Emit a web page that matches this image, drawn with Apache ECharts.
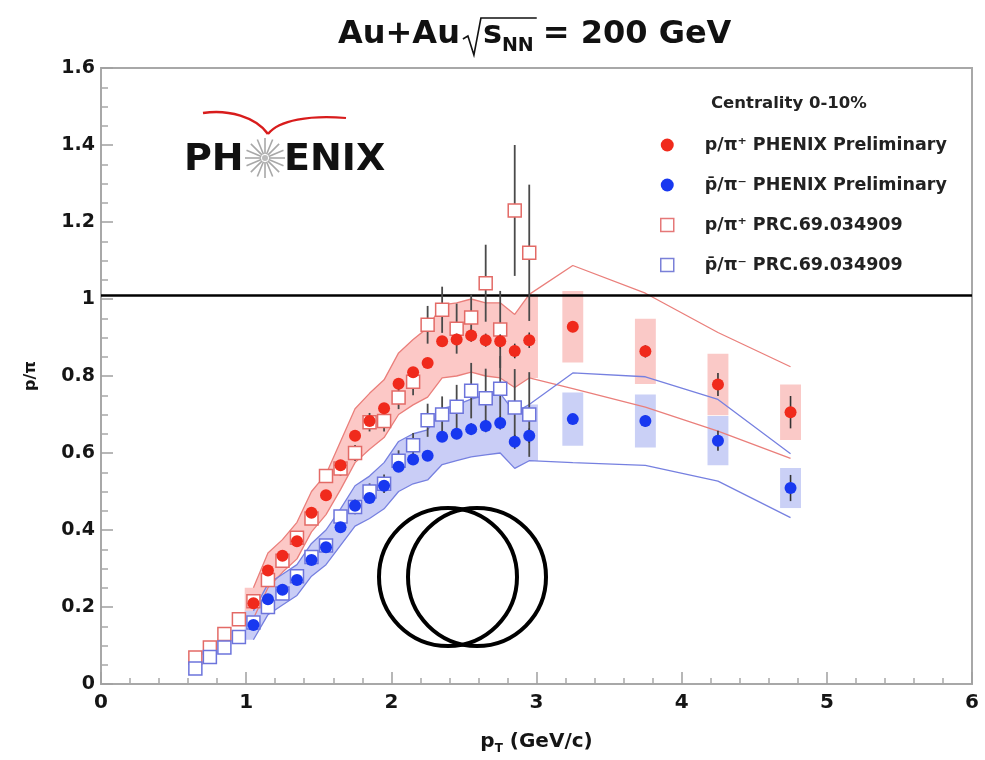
<!DOCTYPE html>
<html>
<head>
<meta charset="utf-8">
<script src="https://cdn.jsdelivr.net/npm/echarts@6/dist/echarts.min.js"></script>
<style>
html,body{margin:0;padding:0;background:#fff}
#main{width:985px;height:760px}
</style>
</head>
<body>
<div id="main"></div>
<script>
// ---- PHENIX preliminary p/pi ratios, Au+Au 200 GeV, 0-10% ----
const ptPre = [1.05,1.15,1.25,1.35,1.45,1.55,1.65,1.75,1.85,1.95,2.05,2.15,2.25,2.35,2.45,2.55,2.65,2.75,2.85,2.95,3.25,3.75,4.25,4.75];
const redPre = [0.21,0.295,0.333,0.371,0.445,0.49,0.568,0.645,0.683,0.716,0.78,0.81,0.834,0.89,0.895,0.905,0.893,0.89,0.865,0.893,0.928,0.864,0.778,0.706];
const redPreErr = [0.004,0.005,0.005,0.006,0.006,0.007,0.008,0.008,0.009,0.01,0.011,0.012,0.013,0.014,0.015,0.016,0.017,0.018,0.019,0.02,0.014,0.016,0.03,0.042];
const bluePre = [0.153,0.22,0.245,0.27,0.322,0.355,0.407,0.463,0.483,0.515,0.564,0.583,0.593,0.642,0.65,0.662,0.67,0.678,0.629,0.645,0.688,0.683,0.632,0.509];
const bluePreErr = [0.004,0.004,0.005,0.005,0.006,0.006,0.007,0.008,0.008,0.009,0.01,0.011,0.012,0.013,0.014,0.015,0.016,0.017,0.018,0.019,0.013,0.015,0.026,0.034];

// systematic envelope (edges), same pT bins as the preliminary points
const redEdgeHi = [0.25,0.34,0.375,0.42,0.50,0.545,0.63,0.715,0.755,0.79,0.86,0.895,0.925,0.985,0.99,1.0,0.99,0.99,0.96,1.012,1.087,1.015,0.913,0.824];
const redEdgeLo = [0.17,0.25,0.29,0.325,0.395,0.44,0.505,0.575,0.61,0.64,0.70,0.725,0.745,0.795,0.80,0.81,0.80,0.795,0.77,0.795,0.767,0.719,0.657,0.586];
const blueEdgeHi = [0.19,0.26,0.285,0.31,0.365,0.40,0.455,0.515,0.54,0.575,0.63,0.65,0.66,0.715,0.725,0.74,0.75,0.755,0.705,0.726,0.808,0.798,0.739,0.598];
const blueEdgeLo = [0.115,0.18,0.205,0.23,0.28,0.31,0.36,0.41,0.43,0.455,0.50,0.52,0.53,0.57,0.58,0.59,0.595,0.60,0.56,0.58,0.575,0.568,0.527,0.432];
const bandCount = 20;   // the envelope is shaded over the first 20 bins only

// systematic boxes for the high-pT bins
const ptSys = [3.25,3.75,4.25,4.75];
const redSys = [0.093,0.085,0.08,0.072];
const blueSys = [0.069,0.069,0.064,0.052];

// ---- PRC 69, 034909 ----
const ptPRC = [0.65,0.75,0.85,0.95,1.05,1.15,1.25,1.35,1.45,1.55,1.65,1.75,1.85,1.95,2.05,2.15,2.25,2.35,2.45,2.55,2.65,2.75,2.85,2.95];
const redPRC = [0.069,0.095,0.13,0.168,0.215,0.27,0.32,0.38,0.43,0.54,0.56,0.60,0.68,0.683,0.744,0.785,0.933,0.972,0.923,0.952,1.041,0.921,1.23,1.12];
const redPRCErr = [0.004,0.005,0.006,0.007,0.008,0.01,0.011,0.013,0.015,0.017,0.019,0.021,0.024,0.027,0.03,0.035,0.049,0.06,0.065,0.06,0.1,0.1,0.17,0.177];
const bluePRC = [0.04,0.07,0.095,0.122,0.16,0.2,0.235,0.28,0.33,0.36,0.435,0.46,0.50,0.52,0.58,0.62,0.685,0.70,0.72,0.762,0.742,0.767,0.718,0.70];
const bluePRCErr = [0.003,0.004,0.005,0.006,0.007,0.008,0.01,0.011,0.013,0.015,0.017,0.019,0.021,0.024,0.027,0.032,0.043,0.047,0.057,0.072,0.077,0.085,0.1,0.11];

const unityLevel = 1.01;

const S1 = 'p/\u03c0\u207a PHENIX Preliminary';
const S2 = 'p\u0304/\u03c0\u207b PHENIX Preliminary';
const S3 = 'p/\u03c0\u207a PRC.69.034909';
const S4 = 'p\u0304/\u03c0\u207b PRC.69.034909';

const FONT = '"DejaVu Sans", sans-serif';
const RED = '#f02a1c', BLUE = '#1838f0';

const pairs = (xs, ys) => xs.map((x, i) => [x, ys[i]]);
const triples = (xs, ys, es) => xs.map((x, i) => [x, ys[i], es[i]]);

function bandSeries(lo, hi, fill) {
  return {
    type: 'custom', silent: true, z: 1, data: [[ptPre[0], lo[0]]],
    renderItem(params, api) {
      const pad = 0.06, n = bandCount;
      const top = [api.coord([ptPre[0] - pad, hi[0]])];
      const bot = [api.coord([ptPre[0] - pad, lo[0]])];
      for (let i = 0; i < n; i++) {
        top.push(api.coord([ptPre[i], hi[i]]));
        bot.push(api.coord([ptPre[i], lo[i]]));
      }
      top.push(api.coord([ptPre[n - 1] + pad, hi[n - 1]]));
      bot.push(api.coord([ptPre[n - 1] + pad, lo[n - 1]]));
      return { type: 'polygon', shape: { points: top.concat(bot.reverse()) }, style: { fill } };
    }
  };
}

function edgeLine(ys, color) {
  return {
    type: 'line', silent: true, z: 2, data: pairs(ptPre, ys), symbol: 'none',
    lineStyle: { color, width: 1.3 }, animation: false
  };
}

function boxSeries(vals, sys, fill) {
  return {
    type: 'custom', silent: true, z: 1, data: triples(ptSys, vals, sys),
    renderItem(params, api) {
      const x = api.value(0), y = api.value(1), s = api.value(2), hw = 0.072;
      const a = api.coord([x - hw, y + s]), b = api.coord([x + hw, y - s]);
      return { type: 'rect', shape: { x: a[0], y: a[1], width: b[0] - a[0], height: b[1] - a[1] }, style: { fill } };
    }
  };
}

function errSeries(xs, ys, es, color, width, z) {
  return {
    type: 'custom', silent: true, z, data: triples(xs, ys, es),
    renderItem(params, api) {
      const x = api.value(0), y = api.value(1), e = api.value(2);
      const a = api.coord([x, y - e]), b = api.coord([x, y + e]);
      return { type: 'line', shape: { x1: a[0], y1: a[1], x2: b[0], y2: b[1] }, style: { stroke: color, lineWidth: width } };
    }
  };
}

// ---- title and logo layout helpers ----
const ctx = document.createElement('canvas').getContext('2d');
function tw(text, font) { ctx.font = font; return ctx.measureText(text).width; }

const titleFont = 'bold 32px ' + FONT;
const subFont = 'bold 19px ' + FONT;
const tx0 = 338, tyMid = 35;
const wAu = tw('Au+Au', titleFont);
const rx0 = tx0 + wAu + 3;               // radical start
const sx = rx0 + 20;                      // 's' start
const wS = tw('s', titleFont);
const wNN = tw('NN', subFont);
const eqx = sx + wS + wNN + 9;

const titleGraphics = [
  { type: 'text', style: { x: tx0, y: tyMid, text: 'Au+Au', font: titleFont, fill: '#111', verticalAlign: 'middle' } },
  { type: 'polyline', shape: { points: [[rx0, tyMid + 4], [rx0 + 5, tyMid + 1], [rx0 + 11, tyMid + 20], [rx0 + 18, tyMid - 17], [sx + wS + wNN + 3, tyMid - 17]] },
    style: { stroke: '#111', lineWidth: 1.6, fill: 'none' } },
  { type: 'text', style: { x: sx, y: tyMid, text: 's', font: titleFont, fill: '#111', verticalAlign: 'middle' } },
  { type: 'text', style: { x: sx + wS, y: tyMid + 11, text: 'NN', font: subFont, fill: '#111', verticalAlign: 'middle' } },
  { type: 'text', style: { x: eqx, y: tyMid, text: '= 200 GeV', font: titleFont, fill: '#111', verticalAlign: 'middle' } }
];

const logoFont = 'bold 38px ' + FONT;
const starC = [265, 158];
const rays = [];
for (let k = 0; k < 16; k++) {
  const a = k * Math.PI / 8;
  rays.push({ type: 'line', shape: { x1: starC[0] + 4 * Math.cos(a), y1: starC[1] + 4 * Math.sin(a), x2: starC[0] + 20 * Math.cos(a), y2: starC[1] + 20 * Math.sin(a) },
    style: { stroke: '#a8a8a8', lineWidth: 1.6 } });
}
const logoGraphics = [
  { type: 'text', style: { x: 184, y: starC[1] + 2, text: 'PH', font: logoFont, fill: '#111', verticalAlign: 'middle' } },
  { type: 'text', style: { x: 284, y: starC[1] + 2, text: 'ENIX', font: logoFont, fill: '#111', verticalAlign: 'middle' } },
  ...rays,
  { type: 'circle', shape: { cx: starC[0], cy: starC[1], r: 3 }, style: { fill: '#bbb' } },
  { type: 'bezierCurve', shape: { x1: 203, y1: 113, cpx1: 228, cpy1: 109, cpx2: 256, cpy2: 117, x2: 268, y2: 134 }, style: { stroke: '#d81c1c', lineWidth: 2.6, fill: 'none' } },
  { type: 'bezierCurve', shape: { x1: 268, y1: 134, cpx1: 279, cpy1: 120, cpx2: 310, cpy2: 115, x2: 346, y2: 118 }, style: { stroke: '#d81c1c', lineWidth: 2.2, fill: 'none' } }
];

// annotation rings
const ringGraphics = [
  { type: 'circle', shape: { cx: 448, cy: 577, r: 69 }, style: { fill: 'none', stroke: '#000', lineWidth: 4 }, z: 100 },
  { type: 'circle', shape: { cx: 477, cy: 577, r: 69 }, style: { fill: 'none', stroke: '#000', lineWidth: 4 }, z: 100 }
];

const chart = echarts.init(document.getElementById('main'), null, { renderer: 'canvas' });
chart.setOption({
  animation: false,
  backgroundColor: '#fff',
  title: {
    text: 'Centrality 0-10%', left: 706, top: 90,
    textStyle: { fontFamily: FONT, fontWeight: 'bold', fontSize: 16.5, color: '#222' }
  },
  grid: { left: 101, right: 13, top: 68, bottom: 66, show: true, borderColor: '#a8a8a8', borderWidth: 2 },
  legend: {
    orient: 'vertical', left: 655, top: 131, itemWidth: 13, itemHeight: 13, itemGap: 22, selectedMode: false,
    textStyle: { fontFamily: FONT, fontWeight: 'bold', fontSize: 17.5, color: '#222', padding: [0, 0, 0, 26], lineHeight: 18 },
    data: [
      { name: S1, icon: 'circle', itemStyle: { color: RED } },
      { name: S2, icon: 'circle', itemStyle: { color: BLUE } },
      { name: S3, icon: 'rect', itemStyle: { color: '#fff', borderColor: '#e57878', borderWidth: 1.5 } },
      { name: S4, icon: 'rect', itemStyle: { color: '#fff', borderColor: '#7a80d8', borderWidth: 1.5 } }
    ]
  },
  xAxis: {
    type: 'value', min: 0, max: 6, interval: 1,
    axisLine: { show: true, onZero: false, lineStyle: { color: '#a8a8a8', width: 2 } },
    axisTick: { show: true, inside: true, length: 12, lineStyle: { color: '#a0a0a0', width: 1.5 } },
    minorTick: { show: true, splitNumber: 5, length: 6, lineStyle: { color: '#a8a8a8', width: 1.5 } },
    splitLine: { show: false },
    axisLabel: { fontFamily: FONT, fontWeight: 'bold', fontSize: 20, color: '#151515', margin: 9 },
    name: '{p|p}{t|T}{p| (GeV/c)}', nameLocation: 'middle', nameGap: 45,
    nameTextStyle: { rich: {
      p: { fontFamily: FONT, fontWeight: 'bold', fontSize: 20, color: '#151515' },
      t: { fontFamily: FONT, fontWeight: 'bold', fontSize: 12, color: '#151515', padding: [14, 0, 0, 0] }
    } }
  },
  yAxis: {
    type: 'value', min: 0, max: 1.6, interval: 0.2,
    axisLine: { show: true, lineStyle: { color: '#a8a8a8', width: 2 } },
    axisTick: { show: true, inside: true, length: 12, lineStyle: { color: '#a0a0a0', width: 1.5 } },
    minorTick: { show: true, splitNumber: 4, length: 7, lineStyle: { color: '#a8a8a8', width: 1.5 } },
    splitLine: { show: false },
    axisLabel: { fontFamily: FONT, fontWeight: 'bold', fontSize: 19, color: '#151515', margin: 6 },
    name: 'p/\u03c0', nameLocation: 'middle', nameGap: 62, nameRotate: 90,
    nameTextStyle: { fontFamily: FONT, fontWeight: 'bold', fontSize: 16, color: '#151515' }
  },
  series: [
    bandSeries(redEdgeLo, redEdgeHi, '#fcc8c6'),
    bandSeries(blueEdgeLo, blueEdgeHi, '#c9cdf6'),
    boxSeries(redPre.slice(20), redSys, '#fac9c7'),
    boxSeries(bluePre.slice(20), blueSys, '#cad0f6'),
    edgeLine(redEdgeHi, '#ea7f7b'),
    edgeLine(redEdgeLo, '#ea7f7b'),
    edgeLine(blueEdgeHi, '#7680e0'),
    edgeLine(blueEdgeLo, '#7680e0'),
    errSeries(ptPRC, redPRC, redPRCErr, '#4a4a4a', 1.8, 5),
    errSeries(ptPRC, bluePRC, bluePRCErr, '#4a4a4a', 1.8, 5),
    {
      name: S3, type: 'scatter', z: 6, data: pairs(ptPRC, redPRC), symbol: 'rect', symbolSize: 13,
      itemStyle: { color: '#fff', borderColor: '#e36a66', borderWidth: 1.5, opacity: 1 }
    },
    {
      name: S4, type: 'scatter', z: 6, data: pairs(ptPRC, bluePRC), symbol: 'rect', symbolSize: 13,
      itemStyle: { color: '#fff', borderColor: '#6c74dc', borderWidth: 1.5, opacity: 1 }
    },
    errSeries(ptPre, redPre, redPreErr, '#333', 1.6, 7),
    errSeries(ptPre, bluePre, bluePreErr, '#333', 1.6, 7),
    {
      name: S1, type: 'scatter', z: 8, data: pairs(ptPre, redPre), symbol: 'circle', symbolSize: 12,
      itemStyle: { color: RED, opacity: 1 },
      markLine: {
        silent: true, symbol: 'none', label: { show: false },
        lineStyle: { color: '#000', width: 2.5, type: 'solid' },
        data: [{ yAxis: unityLevel }]
      }
    },
    {
      name: S2, type: 'scatter', z: 8, data: pairs(ptPre, bluePre), symbol: 'circle', symbolSize: 12,
      itemStyle: { color: BLUE, opacity: 1 }
    }
  ],
  graphic: [].concat(titleGraphics, logoGraphics, ringGraphics)
});
</script>
</body>
</html>
